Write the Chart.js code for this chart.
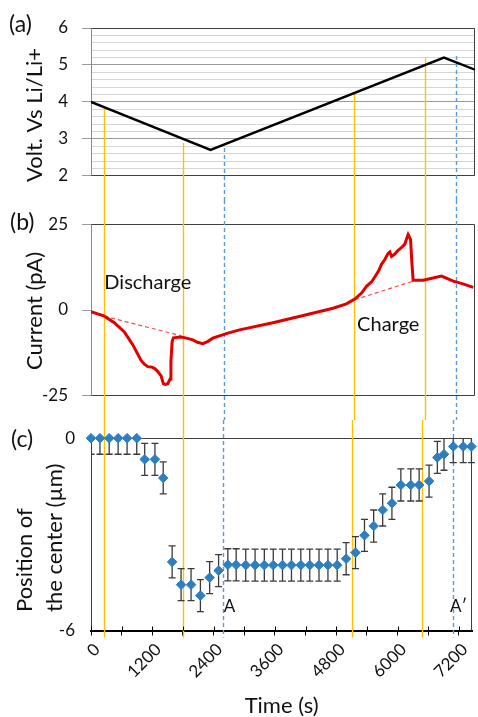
<!DOCTYPE html>
<html>
<head>
<meta charset="utf-8">
<script src="https://cdn.jsdelivr.net/npm/chart.js@4.4.1/dist/chart.umd.min.js"></script>
<style>
  html, body { margin: 0; padding: 0; background: #fff; }
  #fig { position: relative; width: 478px; height: 717px; }
  #fig canvas { position: absolute; left: 0; }
</style>
</head>
<body>
<div id="fig">
  <canvas id="cv" width="478" height="200" style="top:0px"></canvas>
  <canvas id="cc" width="478" height="220" style="top:200px"></canvas>
  <canvas id="cp" width="478" height="297" style="top:420px"></canvas>
</div>
<script>
// ---- shared time axis (s) ----
const timeMin = 0;
const timeMax = 7460;
const timeTicks = [0, 600, 1200, 1800, 2400, 3000, 3600, 4200, 4800, 5400, 6000, 6600, 7200];
const timeTickLabels = ['0', '', '1200', '', '2400', '', '3600', '', '4800', '', '6000', '', '7200'];

// ---- (a) potential sweep: vertices of the triangular wave ----
const voltTime  = [0, 2322, 6856, 7460];
const voltValue = [4.00, 2.70, 5.20, 4.87];

// ---- (b) current ----
const curTime = [0, 259, 453, 648, 810, 973, 1037, 1101, 1173, 1232, 1290, 1362, 1387, 1407, 1446,
  1491, 1537, 1553, 1576, 1601, 1751, 1855, 1977, 2069, 2172, 2263, 2366, 2627, 2886, 3534,
  4184, 4701, 4962, 5124, 5260, 5352, 5455, 5513, 5591, 5643, 5708, 5772, 5805, 5838, 5902,
  5966, 6019, 6097, 6136, 6161, 6208, 6233, 6258, 6453, 6642, 6811, 6914, 7037, 7225, 7426];
const curValue = [-0.5, -1.8, -3.7, -6.4, -10.1, -14.7, -15.8, -16.5, -16.6, -17.0, -17.8, -19.2, -20.5, -21.5, -21.7,
  -21.5, -20.1, -15.0, -9.2, -8.1, -7.9, -8.2, -8.7, -9.4, -9.8, -9.2, -8.2, -6.9, -5.8, -3.7,
  -1.4, 0.5, 1.8, 3.2, 5.0, 6.9, 8.3, 9.6, 11.5, 13.3, 14.7, 16.5, 16.9, 15.6, 16.3,
  17.4, 18.0, 19.2, 21.0, 22.0, 20.6, 14.0, 8.7, 8.7, 9.3, 9.9, 9.2, 8.4, 7.6, 6.6];
// capacitive baselines under the two peaks
const baseDisTime  = [259, 1751];
const baseDisValue = [-1.8, -7.5];
const baseChgTime  = [5124, 6258];
const baseChgValue = [3.0, 8.4];

// ---- (c) position of the centre (µm) with error ----
const posTime = [0, 175, 356, 531, 706, 895, 1051, 1251, 1413, 1588, 1763, 1958, 2141, 2322, 2497,
  2678, 2841, 3028, 3211, 3392, 3567, 3748, 3923, 4106, 4281, 4462, 4637, 4818, 4993, 5176,
  5352, 5532, 5708, 5889, 6064, 6258, 6422, 6616, 6778, 6908, 7089, 7284, 7445];
const posValue = [0, 0, 0, 0, 0, 0, -0.66, -0.66, -1.24, -3.86, -4.57, -4.57, -4.91, -4.35, -4.13,
  -3.95, -3.95, -3.96, -3.96, -3.96, -3.96, -3.96, -3.96, -3.96, -3.96, -3.96, -3.96, -3.96, -3.76, -3.57,
  -3.03, -2.74, -2.24, -2.03, -1.46, -1.46, -1.46, -1.34, -0.60, -0.50, -0.26, -0.26, -0.26];
const posError = [0.5, 0.5, 0.5, 0.5, 0.5, 0.5, 0.5, 0.5, 0.5, 0.5, 0.5, 0.5, 0.5, 0.5, 0.5,
  0.5, 0.5, 0.5, 0.5, 0.5, 0.5, 0.5, 0.5, 0.5, 0.5, 0.5, 0.5, 0.5, 0.5, 0.5,
  0.5, 0.5, 0.5, 0.5, 0.5, 0.5, 0.5, 0.5, 0.5, 0.5, 0.5, 0.5, 0.5];

// ---- marker lines through all panels ----
const markTime      = [245, 1796, 2581, 5111, 6487, 7090];
const markKind      = ['stage', 'stage', 'image', 'stage', 'stage', 'image'];
const markStartVolt = [3.88, 2.89, 2.75, 4.27, 5.20, 5.24];

// ---- look ----
const FONT = 'Lato, "Open Sans", "DejaVu Sans", sans-serif';
const INK = '#111111';
const FRAME = '#404040';
const AXIS_GREY = '#8c8c8c';
Chart.defaults.font.family = FONT;
Chart.defaults.color = INK;
Chart.defaults.animation = false;

const pts = (xs, ys) => xs.map((x, i) => ({ x, y: ys[i] }));
const isInt = v => Math.abs(v - Math.round(v)) < 1e-6;

// plot-area frame (top / right / bottom sides)
const framePlugin = sides => ({
  id: 'frame',
  beforeDatasetsDraw(chart) {
    const { ctx, chartArea: a } = chart;
    ctx.save();
    ctx.strokeStyle = FRAME;
    ctx.lineWidth = 1;
    const L = Math.round(a.left) + 0.5, R = Math.round(a.right) - 0.5;
    const T = Math.round(a.top) + 0.5, B = Math.round(a.bottom) - 0.5;
    ctx.beginPath();
    if (sides.includes('top')) { ctx.moveTo(L, T); ctx.lineTo(R, T); }
    if (sides.includes('right')) { ctx.moveTo(R, T); ctx.lineTo(R, B); }
    if (sides.includes('bottom')) { ctx.moveTo(L, B); ctx.lineTo(R, B); }
    ctx.stroke();
    ctx.restore();
  }
});

// vertical marker lines
const markerPlugin = (fromY, toY) => ({
  id: 'markers',
  beforeDatasetsDraw(chart) {
    const ctx = chart.ctx, xs = chart.scales.x;
    ctx.save();
    markTime.forEach((t, i) => {
      const x = Math.round(xs.getPixelForValue(t)) + 0.5;
      ctx.beginPath();
      ctx.lineWidth = 1.4;
      if (markKind[i] === 'image') { ctx.strokeStyle = '#5B9BD5'; ctx.setLineDash([4, 3]); }
      else { ctx.strokeStyle = '#FFC000'; ctx.setLineDash([]); }
      ctx.moveTo(x, fromY(chart, i));
      ctx.lineTo(x, toY(chart, i));
      ctx.stroke();
    });
    ctx.restore();
  }
});

// free text: panel letters, rotated axis titles and in-plot notes
const textPlugin = items => ({
  id: 'texts',
  afterDraw(chart) {
    const ctx = chart.ctx;
    items.forEach(it => {
      ctx.save();
      ctx.font = it.font;
      ctx.fillStyle = INK;
      ctx.textAlign = it.align || 'left';
      ctx.textBaseline = 'middle';
      let x = it.x, y = it.y;
      if (it.data) { x = chart.scales.x.getPixelForValue(it.x); y = chart.scales.y.getPixelForValue(it.y); }
      ctx.translate(x, y);
      if (it.rot) ctx.rotate(it.rot);
      ctx.fillText(it.text, 0, 0);
      ctx.restore();
    });
  }
});

const noPlugins = { legend: { display: false }, tooltip: { enabled: false } };
const tickFont = { size: 17, family: FONT };
const titleFont = '22px ' + FONT;
const letterFont = '23px ' + FONT;

// ================= (a) potential =================
new Chart(document.getElementById('cv'), {
  type: 'line',
  data: { datasets: [{ data: pts(voltTime, voltValue), borderColor: '#000', borderWidth: 2.4, pointRadius: 0, tension: 0 }] },
  options: {
    responsive: false,
    layout: { padding: { top: 28, bottom: 11, left: 0, right: 3 } },
    plugins: noPlugins,
    scales: {
      x: { type: 'linear', min: timeMin, max: timeMax, display: false },
      y: {
        min: 2, max: 6,
        afterFit: s => { s.width = 91; },
        ticks: { stepSize: 0.2, autoSkip: false, padding: 14, font: tickFont, color: INK,
                 callback: v => isInt(v) ? String(Math.round(v)) : '' },
        grid: {
          color: c => isInt(c.tick.value) ? '#9a9a9a' : '#d6d6d6',
          tickColor: c => isInt(c.tick.value) ? '#9a9a9a' : 'rgba(0,0,0,0)',
          tickLength: 9
        },
        border: { color: AXIS_GREY }
      }
    }
  },
  plugins: [
    framePlugin(['top', 'right', 'bottom']),
    markerPlugin((c, i) => c.scales.y.getPixelForValue(markStartVolt[i]), c => c.height),
    textPlugin([
      { text: '(a)', x: 9, y: 25, font: letterFont },
      { text: 'Volt. Vs Li/Li+', x: 35, y: 115, rot: -Math.PI / 2, align: 'center', font: titleFont }
    ])
  ]
});

// ================= (b) current =================
new Chart(document.getElementById('cc'), {
  type: 'line',
  data: { datasets: [
    { data: pts(curTime, curValue), borderColor: '#E00000', borderWidth: 3, pointRadius: 0, tension: 0 },
    { data: pts(baseDisTime, baseDisValue), borderColor: '#F05050', borderWidth: 1.2, borderDash: [4, 3], pointRadius: 0 },
    { data: pts(baseChgTime, baseChgValue), borderColor: '#F05050', borderWidth: 1.2, borderDash: [4, 3], pointRadius: 0 }
  ] },
  options: {
    responsive: false,
    layout: { padding: { top: 19, bottom: 19, left: 0, right: 3 } },
    plugins: noPlugins,
    scales: {
      x: { type: 'linear', min: timeMin, max: timeMax, display: false },
      y: {
        min: -25, max: 25,
        afterFit: s => { s.width = 91; },
        ticks: { stepSize: 25, autoSkip: false, padding: 14, font: tickFont, color: INK },
        grid: { drawOnChartArea: false, tickColor: '#9a9a9a', tickLength: 9 },
        border: { color: AXIS_GREY }
      }
    }
  },
  plugins: [
    framePlugin(['top', 'right', 'bottom']),
    markerPlugin(() => 0, c => c.height),
    textPlugin([
      { text: '(b)', x: 10, y: 23, font: letterFont },
      { text: 'Current (pA)', x: 35, y: 111, rot: -Math.PI / 2, align: 'center', font: titleFont },
      { text: 'Discharge', x: 259, y: 8.0, data: true, font: '20px ' + FONT },
      { text: 'Charge', x: 5170, y: -4.1, data: true, font: '20px ' + FONT }
    ])
  ]
});

// ================= (c) position of the centre =================
const errorBarPlugin = {
  id: 'errorBars',
  beforeDatasetsDraw(chart) {
    const { ctx, chartArea: a } = chart;
    const xs = chart.scales.x, ys = chart.scales.y;
    ctx.save();
    ctx.beginPath();
    ctx.rect(a.left, a.top, a.right - a.left + 4, a.bottom - a.top);
    ctx.clip();
    ctx.strokeStyle = '#3a3a3a';
    ctx.lineWidth = 1.3;
    posTime.forEach((t, i) => {
      const x = xs.getPixelForValue(t);
      const y1 = ys.getPixelForValue(posValue[i] - posError[i]);
      const y2 = ys.getPixelForValue(posValue[i] + posError[i]);
      ctx.beginPath();
      ctx.moveTo(x, y1); ctx.lineTo(x, y2);
      ctx.moveTo(x - 3.5, y1); ctx.lineTo(x + 3.5, y1);
      ctx.moveTo(x - 3.5, y2); ctx.lineTo(x + 3.5, y2);
      ctx.stroke();
    });
    ctx.restore();
  }
};

// tick marks that cross the time axis
const crossTickPlugin = {
  id: 'crossTicks',
  afterDraw(chart) {
    const ctx = chart.ctx, xs = chart.scales.x;
    const y = chart.chartArea.bottom;
    ctx.save();
    ctx.strokeStyle = '#000';
    ctx.lineWidth = 1;
    ctx.beginPath();
    timeTicks.forEach(t => {
      const x = Math.round(xs.getPixelForValue(t)) + 0.5;
      ctx.moveTo(x, y - 4); ctx.lineTo(x, y);
    });
    ctx.stroke();
    ctx.restore();
  }
};

new Chart(document.getElementById('cp'), {
  type: 'scatter',
  data: { datasets: [{
    data: pts(posTime, posValue),
    pointStyle: 'rectRot', pointRadius: 4.8,
    backgroundColor: '#2E7FC0', borderColor: '#2E7FC0', borderWidth: 1,
    showLine: false, clip: false
  }] },
  options: {
    responsive: false,
    layout: { padding: { top: 7, bottom: 0, left: 0, right: 3 } },
    plugins: noPlugins,
    scales: {
      x: {
        type: 'linear', min: timeMin, max: timeMax,
        afterFit: s => { s.height = 86.5; },
        afterBuildTicks: s => { s.ticks = timeTicks.map(v => ({ value: v })); },
        ticks: { autoSkip: false, minRotation: 45, maxRotation: 45, padding: 4, labelOffset: 6,
                 font: tickFont, color: INK, callback: (v, i) => timeTickLabels[i] },
        grid: { drawOnChartArea: false, color: '#000', tickLength: 5 },
        border: { color: '#000', width: 2 },
        title: { display: true, text: 'Time (s)', color: INK,
                 font: { size: 22, family: FONT, lineHeight: 1 }, padding: { top: 0, bottom: 0 } }
      },
      y: {
        min: -6, max: 0,
        afterFit: s => { s.width = 91; },
        ticks: { stepSize: 6, autoSkip: false, padding: 8, font: tickFont, color: INK },
        grid: { display: false },
        border: { color: FRAME }
      }
    }
  },
  plugins: [
    framePlugin(['top', 'right']),
    markerPlugin(() => 0, c => c.chartArea.bottom + 7),
    errorBarPlugin,
    crossTickPlugin,
    textPlugin([
      { text: '(c)', x: 11, y: 20, font: letterFont },
      { text: 'Position of', x: 25, y: 192, rot: -Math.PI / 2, align: 'left', font: titleFont },
      { text: 'the center (µm)', x: 55, y: 192, rot: -Math.PI / 2, align: 'left', font: titleFont },
      { text: 'A', x: 2600, y: -5.25, data: true, font: '17px ' + FONT },
      { text: 'A\u2032', x: 7025, y: -5.25, data: true, font: '17px ' + FONT }
    ])
  ]
});
</script>
</body>
</html>
